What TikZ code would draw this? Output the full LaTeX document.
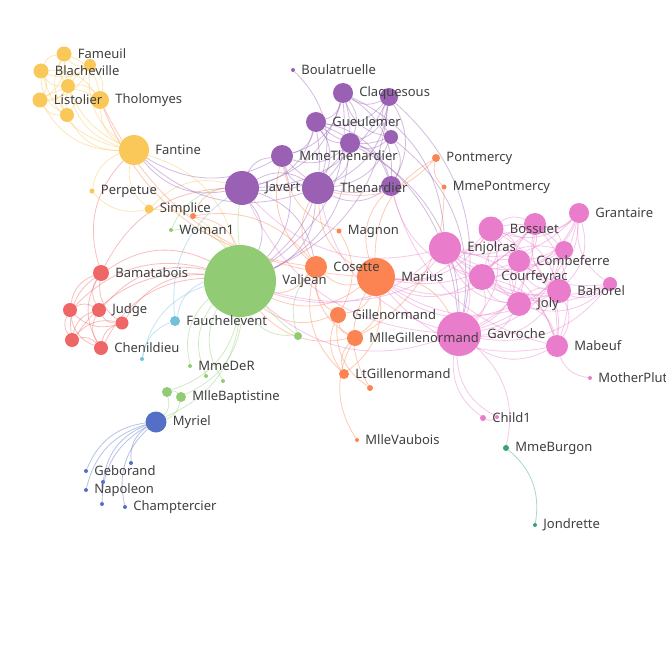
\documentclass[tikz,border=0pt]{standalone}
\usepackage{fontspec}
\setmainfont{Noto Sans}
\usetikzlibrary{backgrounds}
\definecolor{cBlu}{HTML}{5470C6}
\definecolor{cGre}{HTML}{91CC75}
\definecolor{cYel}{HTML}{FAC858}
\definecolor{cRed}{HTML}{EE6666}
\definecolor{cSky}{HTML}{73C0DE}
\definecolor{cTea}{HTML}{3BA272}
\definecolor{cOra}{HTML}{FC8452}
\definecolor{cPur}{HTML}{9A60B4}
\definecolor{cPin}{HTML}{EA7CCC}
\definecolor{cTxt}{HTML}{404040}

\begin{document}
\begin{tikzpicture}[x=1pt, y=-1pt,
  vx/.style={circle, inner sep=0pt, minimum size=#1},
  blu/.style={vx=#1, fill=cBlu},
  gre/.style={vx=#1, fill=cGre},
  yel/.style={vx=#1, fill=cYel},
  red/.style={vx=#1, fill=cRed},
  sky/.style={vx=#1, fill=cSky},
  tea/.style={vx=#1, fill=cTea},
  ora/.style={vx=#1, fill=cOra},
  pur/.style={vx=#1, fill=cPur},
  pin/.style={vx=#1, fill=cPin},
  lk/.style={line width=0.8pt, draw opacity=0.42},
  every label/.style={font=\fontsize{13}{15}\selectfont, text=cTxt, inner sep=0pt},
  label distance=6pt
]
\useasboundingbox (0,0) rectangle (666,666);
\clip (0,0) rectangle (666,666);

% unlabelled nodes
\node[yel=12] (favourite) at (90,65) {};
\node[yel=14] (dahlia) at (68,86) {};
\node[yel=14] (zephine) at (67,115) {};
\node[pur=18] (montparnasse) at (389,97) {};
\node[pur=20] (babet) at (350,143) {};
\node[pur=14] (brujon) at (391,137) {};
\node[pur=20] (eponine) at (391,186) {};
\node[ora=6] (woman2) at (193,216) {};
\node[ora=6] (baroness) at (370,388) {};
\node[gre=8] (toussaint) at (298,336) {};
\node[gre=4] (isabeau) at (206,376) {};
\node[gre=4] (gervais) at (223,381) {};
\node[gre=10] (mmemagloire) at (167,392) {};
\node[sky=4] (motherinnocent) at (142,359) {};
\node[red=14] (champmathieu) at (70,310) {};
\node[red=13] (brevet) at (122,323) {};
\node[red=14] (cochepaille) at (72,340) {};
\node[blu=4] (countessdelo) at (103,482) {};
\node[blu=4] (cravatte) at (131,463) {};
\node[blu=4] (count) at (102,504) {};
\node[pin=22] (feuilly) at (535,224) {};
\node[pin=18] (prouvaire) at (564,250) {};
\node[pin=14] (hucheloup) at (610,284) {};
\node[pin=4] (child2) at (497,417) {};

% labelled nodes
\node[yel=18, label=right:Tholomyes] (tholomyes) at (100,100) {};
\node[yel=15, label=right:Fameuil] (fameuil) at (64,54) {};
\node[yel=15, label=right:Blacheville] (blacheville) at (41,71) {};
\node[yel=15, label=right:Listolier] (listolier) at (40,100) {};
\node[yel=30, label=right:Fantine] (fantine) at (134,150) {};
\node[yel=5, label=right:Perpetue] (perpetue) at (92,191) {};
\node[yel=9, label=right:Simplice] (simplice) at (149,209) {};
\node[pur=4, label=right:Boulatruelle] (boulatruelle) at (293,70) {};
\node[pur=20, label=right:Claquesous] (claquesous) at (343,93) {};
\node[pur=20, label=right:Gueulemer] (gueulemer) at (316,122) {};
\node[pur=22, label=right:MmeThenardier] (mmethenardier) at (282,156) {};
\node[pur=32, label=right:Thenardier] (thenardier) at (318,188) {};
\node[pur=34, label=right:Javert] (javert) at (242,188) {};
\node[ora=8, label=right:Pontmercy] (pontmercy) at (436,158) {};
\node[ora=5, label=right:MmePontmercy] (mmepontmercy) at (444,187) {};
\node[ora=5, label=right:Magnon] (magnon) at (339,231) {};
\node[ora=38, label=right:Marius] (marius) at (376,277) {};
\node[ora=22, label=right:Cosette] (cosette) at (316,267) {};
\node[ora=16, label=right:Gillenormand] (gillenormand) at (338,315) {};
\node[pin=44, label=right:Gavroche] (gavroche) at (459,334) {};
\node[ora=16, label=right:MlleGillenormand] (mllegillenormand) at (355,338) {};
\node[ora=10, label=right:LtGillenormand] (ltgillenormand) at (344,374) {};
\node[ora=4, label=right:MlleVaubois] (mllevaubois) at (357,440) {};
\node[gre=72, label=right:Valjean] (valjean) at (240,281) {};
\node[gre=4, label=right:Woman1] (woman1) at (171,230) {};
\node[gre=4, label=right:MmeDeR] (mmeder) at (190,366) {};
\node[gre=10, label=right:MlleBaptistine] (mllebaptistine) at (181,397) {};
\node[sky=10, label=right:Fauchelevent] (fauchelevent) at (175,321) {};
\node[red=16, label=right:Bamatabois] (bamatabois) at (101,273) {};
\node[red=14, label=right:Judge] (judge) at (99,310) {};
\node[red=14, label=right:Chenildieu] (chenildieu) at (101,348) {};
\node[blu=21, label=right:Myriel] (myriel) at (156,422) {};
\node[blu=4, label=right:Geborand] (geborand) at (86,471) {};
\node[blu=4, label=right:Napoleon] (napoleon) at (86,490) {};
\node[blu=4, label=right:Champtercier] (champtercier) at (125,507) {};
\node[pin=32, label=right:Enjolras] (enjolras) at (445,248) {};
\node[pin=25, label=right:Bossuet] (bossuet) at (491,229) {};
\node[pin=20, label=right:Grantaire] (grantaire) at (579,213) {};
\node[pin=22, label=right:Combeferre] (combeferre) at (519,261) {};
\node[pin=26, label=right:Courfeyrac] (courfeyrac) at (482,277) {};
\node[pin=24, label=right:Bahorel] (bahorel) at (559,291) {};
\node[pin=24, label=right:Joly] (joly) at (519,304) {};
\node[pin=22, label=right:Mabeuf] (mabeuf) at (557,346) {};
\node[pin=4, label=right:MotherPlutarch] (motherplutarch) at (590,378) {};
\node[pin=6, label=right:Child1] (child1) at (483,418) {};
\node[tea=6, label=right:MmeBurgon] (mmeburgon) at (506,448) {};
\node[tea=4, label=right:Jondrette] (jondrette) at (535,525) {};

\begin{scope}[on background layer, every to/.style={bend left=30}]
\fill[white] (0,0) rectangle (666,666);
% blue
\foreach \t in {myriel} {\draw[lk, cBlu] (napoleon) to (\t); \draw[lk, cBlu] (countessdelo) to (\t);
  \draw[lk, cBlu] (geborand) to (\t); \draw[lk, cBlu] (champtercier) to (\t);
  \draw[lk, cBlu] (cravatte) to (\t); \draw[lk, cBlu] (count) to (\t);}
% green
\foreach \t in {myriel} \draw[lk, cGre] (mllebaptistine) to (\t);
\foreach \t in {myriel, mllebaptistine} \draw[lk, cGre] (mmemagloire) to (\t);
\foreach \t in {mmemagloire, mllebaptistine, myriel} \draw[lk, cGre] (valjean) to (\t);
\foreach \s in {mmeder, isabeau, gervais} \draw[lk, cGre] (\s) to (valjean);
\foreach \t in {valjean, javert} \draw[lk, cGre] (woman1) to (\t);
\foreach \t in {cosette, javert, valjean} \draw[lk, cGre] (toussaint) to (\t);
% yellow
\draw[lk, cYel] (listolier) to (tholomyes);
\foreach \t in {tholomyes, listolier} \draw[lk, cYel] (fameuil) to (\t);
\foreach \t in {tholomyes, listolier, fameuil} \draw[lk, cYel] (blacheville) to (\t);
\foreach \t in {tholomyes, listolier, fameuil, blacheville} \draw[lk, cYel] (favourite) to (\t);
\foreach \t in {tholomyes, listolier, fameuil, blacheville, favourite} \draw[lk, cYel] (dahlia) to (\t);
\foreach \t in {tholomyes, listolier, fameuil, blacheville, favourite, dahlia} \draw[lk, cYel] (zephine) to (\t);
\foreach \t in {tholomyes, listolier, fameuil, blacheville, favourite, dahlia, zephine, valjean}
  \draw[lk, cYel] (fantine) to (\t);
\draw[lk, cYel] (perpetue) to (fantine);
\foreach \t in {perpetue, valjean, fantine, javert} \draw[lk, cYel] (simplice) to (\t);
% purple
\foreach \t in {fantine, valjean} \draw[lk, cPur] (mmethenardier) to (\t);
\foreach \t in {mmethenardier, valjean, fantine} \draw[lk, cPur] (thenardier) to (\t);
\foreach \t in {valjean, fantine, thenardier, mmethenardier, cosette} \draw[lk, cPur] (javert) to (\t);
\draw[lk, cPur] (boulatruelle) to (thenardier);
\foreach \t in {mmethenardier, thenardier} \draw[lk, cPur] (eponine) to (\t);
\foreach \t in {thenardier, valjean, mmethenardier, javert, eponine, gavroche} \draw[lk, cPur] (gueulemer) to (\t);
\foreach \t in {thenardier, gueulemer, valjean, mmethenardier, javert, eponine, gavroche} \draw[lk, cPur] (babet) to (\t);
\foreach \t in {thenardier, babet, gueulemer, valjean, mmethenardier, javert, eponine, enjolras}
  \draw[lk, cPur] (claquesous) to (\t);
\foreach \t in {javert, babet, gueulemer, claquesous, valjean, gavroche, eponine, thenardier}
  \draw[lk, cPur] (montparnasse) to (\t);
\foreach \t in {babet, gueulemer, thenardier, claquesous, montparnasse, eponine, gavroche}
  \draw[lk, cPur] (brujon) to (\t);
% light blue and red
\foreach \t in {valjean, javert} \draw[lk, cSky] (fauchelevent) to (\t);
\foreach \t in {fauchelevent, valjean} \draw[lk, cSky] (motherinnocent) to (\t);
\foreach \t in {fantine, javert, valjean} \draw[lk, cRed] (bamatabois) to (\t);
\foreach \t in {valjean, bamatabois} \draw[lk, cRed] (judge) to (\t);
\foreach \t in {valjean, judge, bamatabois} \draw[lk, cRed] (champmathieu) to (\t);
\foreach \t in {judge, champmathieu, valjean, bamatabois} \draw[lk, cRed] (brevet) to (\t);
\foreach \t in {judge, champmathieu, brevet, valjean, bamatabois} \draw[lk, cRed] (chenildieu) to (\t);
\foreach \t in {judge, champmathieu, brevet, chenildieu, valjean, bamatabois} \draw[lk, cRed] (cochepaille) to (\t);
% orange
\foreach \t in {mmethenardier, valjean, tholomyes, thenardier} \draw[lk, cOra] (cosette) to (\t);
\draw[lk, cOra] (pontmercy) to (thenardier);
\foreach \t in {cosette, valjean, javert} \draw[lk, cOra] (woman2) to (\t);
\foreach \t in {cosette, valjean} \draw[lk, cOra] (gillenormand) to (\t);
\foreach \t in {gillenormand, mmethenardier} \draw[lk, cOra] (magnon) to (\t);
\foreach \t in {gillenormand, cosette, valjean} \draw[lk, cOra] (mllegillenormand) to (\t);
\foreach \t in {mllegillenormand, pontmercy} \draw[lk, cOra] (mmepontmercy) to (\t);
\draw[lk, cOra] (mllevaubois) to (mllegillenormand);
\foreach \t in {mllegillenormand, gillenormand, cosette} \draw[lk, cOra] (ltgillenormand) to (\t);
\foreach \t in {mllegillenormand, gillenormand, pontmercy, ltgillenormand, cosette, valjean, tholomyes,
  thenardier, eponine, gavroche} \draw[lk, cOra] (marius) to (\t);
\foreach \t in {gillenormand, marius} \draw[lk, cOra] (baroness) to (\t);
% pink and teal
\draw[lk, cTea] (mmeburgon) to (jondrette);
\foreach \t in {mmeburgon, thenardier, javert, valjean} \draw[lk, cPin] (gavroche) to (\t);
\foreach \t in {marius, eponine, gavroche} \draw[lk, cPin] (mabeuf) to (\t);
\foreach \t in {gavroche, marius, valjean, javert, mabeuf} \draw[lk, cPin] (enjolras) to (\t);
\foreach \t in {enjolras, marius, gavroche, mabeuf} \draw[lk, cPin] (combeferre) to (\t);
\foreach \t in {gavroche, enjolras, combeferre} \draw[lk, cPin] (prouvaire) to (\t);
\foreach \t in {gavroche, enjolras, prouvaire, combeferre, mabeuf, marius} \draw[lk, cPin] (feuilly) to (\t);
\foreach \t in {marius, enjolras, combeferre, gavroche, eponine, mabeuf, feuilly, prouvaire}
  \draw[lk, cPin] (courfeyrac) to (\t);
\foreach \t in {combeferre, gavroche, marius, mabeuf, courfeyrac, enjolras, feuilly, prouvaire}
  \draw[lk, cPin] (bahorel) to (\t);
\foreach \t in {marius, courfeyrac, bahorel, mabeuf, enjolras, combeferre, prouvaire, gavroche, feuilly, valjean}
  \draw[lk, cPin] (bossuet) to (\t);
\foreach \t in {gavroche, marius, mabeuf, bossuet, courfeyrac, bahorel, enjolras, feuilly, combeferre, prouvaire}
  \draw[lk, cPin] (joly) to (\t);
\foreach \t in {bossuet, enjolras, joly, courfeyrac, bahorel, feuilly, combeferre, gavroche}
  \draw[lk, cPin] (grantaire) to (\t);
\draw[lk, cPin] (motherplutarch) to (mabeuf);
\draw[lk, cPin] (child1) to (gavroche);
\foreach \t in {gavroche, child1} \draw[lk, cPin] (child2) to (\t);
\foreach \t in {bossuet, joly, grantaire, bahorel, courfeyrac, gavroche, enjolras}
  \draw[lk, cPin] (hucheloup) to (\t);
\end{scope}
\end{tikzpicture}
\end{document}
